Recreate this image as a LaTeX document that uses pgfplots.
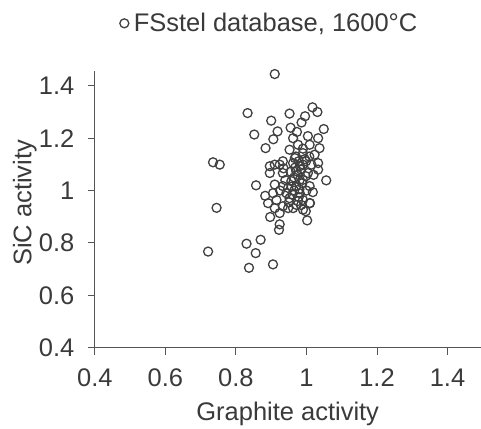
\documentclass[border=0pt]{standalone}
\usepackage{pgfplots}
\pgfplotsset{compat=1.18}
\usepackage{fontspec}
\setmainfont{Liberation Sans}
\definecolor{txt}{HTML}{3A3A3A}
\definecolor{axl}{HTML}{555555}
\definecolor{mk}{HTML}{404040}

\pgfplotstableread{
x y
0.910 1.445
0.833 1.296
0.952 1.294
1.017 1.318
1.031 1.300
0.900 1.267
0.996 1.284
0.852 1.214
0.918 1.226
0.906 1.196
0.884 1.162
1.049 1.235
0.955 1.240
0.986 1.260
0.973 1.224
0.735 1.108
0.754 1.099
1.056 1.039
0.857 1.020
0.745 0.934
0.897 0.899
0.924 0.871
0.922 0.850
1.002 0.886
0.830 0.797
0.870 0.812
0.856 0.761
0.721 0.767
0.837 0.705
0.905 0.718
0.883 0.980
0.891 0.952
1.018 0.994
1.010 0.952
0.998 0.921
0.924 0.914
0.948 0.933
0.962 1.200
1.004 1.208
1.033 1.200
0.976 1.175
1.009 1.175
1.037 1.162
0.952 1.156
0.990 1.143
1.023 1.137
0.967 1.124
0.933 1.112
0.999 1.112
1.033 1.105
0.910 1.099
0.981 1.093
1.014 1.099
0.896 1.093
0.924 1.099
0.962 1.105
0.990 1.099
0.896 1.067
0.933 1.067
0.971 1.074
1.004 1.067
1.033 1.080
0.981 1.041
0.957 1.036
0.910 1.023
0.933 1.017
0.971 1.017
1.009 1.017
0.905 0.990
0.943 0.990
0.981 0.990
0.915 0.964
0.952 0.971
0.990 0.964
0.933 0.940
0.962 0.933
0.990 0.927
1.009 0.952
0.910 0.933
0.976 0.960
0.948 1.010
0.990 1.041
0.975 1.060
0.985 1.080
0.995 1.120
0.965 1.050
0.980 1.005
0.960 0.985
1.000 1.000
0.970 1.130
0.990 1.160
0.940 1.040
0.968 1.088
0.978 1.112
0.955 1.072
0.988 1.028
0.965 1.000
0.925 1.000
0.950 0.955
0.985 0.945
0.998 1.055
1.020 1.060
0.935 1.085
0.978 0.975
1.008 1.130
0.958 1.015
0.972 0.945
}\fsstel

\begin{document}
\begin{tikzpicture}
\begin{axis}[
    scale only axis,
    width=386pt, height=277pt,
    xmin=0.4, xmax=1.4935,
    ymin=0.4, ymax=1.457,
    axis lines=left,
    axis line style={axl, line width=1pt, -},
    xtick={0.4,0.6,...,1.4},
    ytick={0.4,0.6,...,1.4},
    tick align=outside,
    major tick length=7pt,
    tick style={axl, line width=1pt},
    font=\fontsize{25.5}{30}\selectfont,
    tick label style={txt},
    /pgf/number format/assume math mode=true,
    xticklabel style={yshift=-11pt},
    yticklabel style={xshift=-10pt},
    xlabel={Graphite activity},
    ylabel={SiC activity},
    every axis x label/.style={at={(axis description cs:0.5,-0.238)}, anchor=center, txt},
    every axis y label/.style={at={(axis description cs:-0.182,0.523)}, rotate=90, anchor=center, txt},
    legend style={at={(axis description cs:0.453,1.172)}, anchor=center, draw=none, fill=none,
        text=txt, font=\fontsize{25.5}{30}\selectfont, inner sep=0pt, column sep=3pt},
    legend cell align=left,
    clip=false,
]
\addplot[only marks, mark=o, mark size=4.5pt, mark options={mk, line width=1.3pt}] table {\fsstel};
\addlegendentry{FSstel database, 1600°C}
\end{axis}
\path[use as bounding box] (-95pt,-77pt) rectangle (386pt,348pt);
\end{tikzpicture}
\end{document}
